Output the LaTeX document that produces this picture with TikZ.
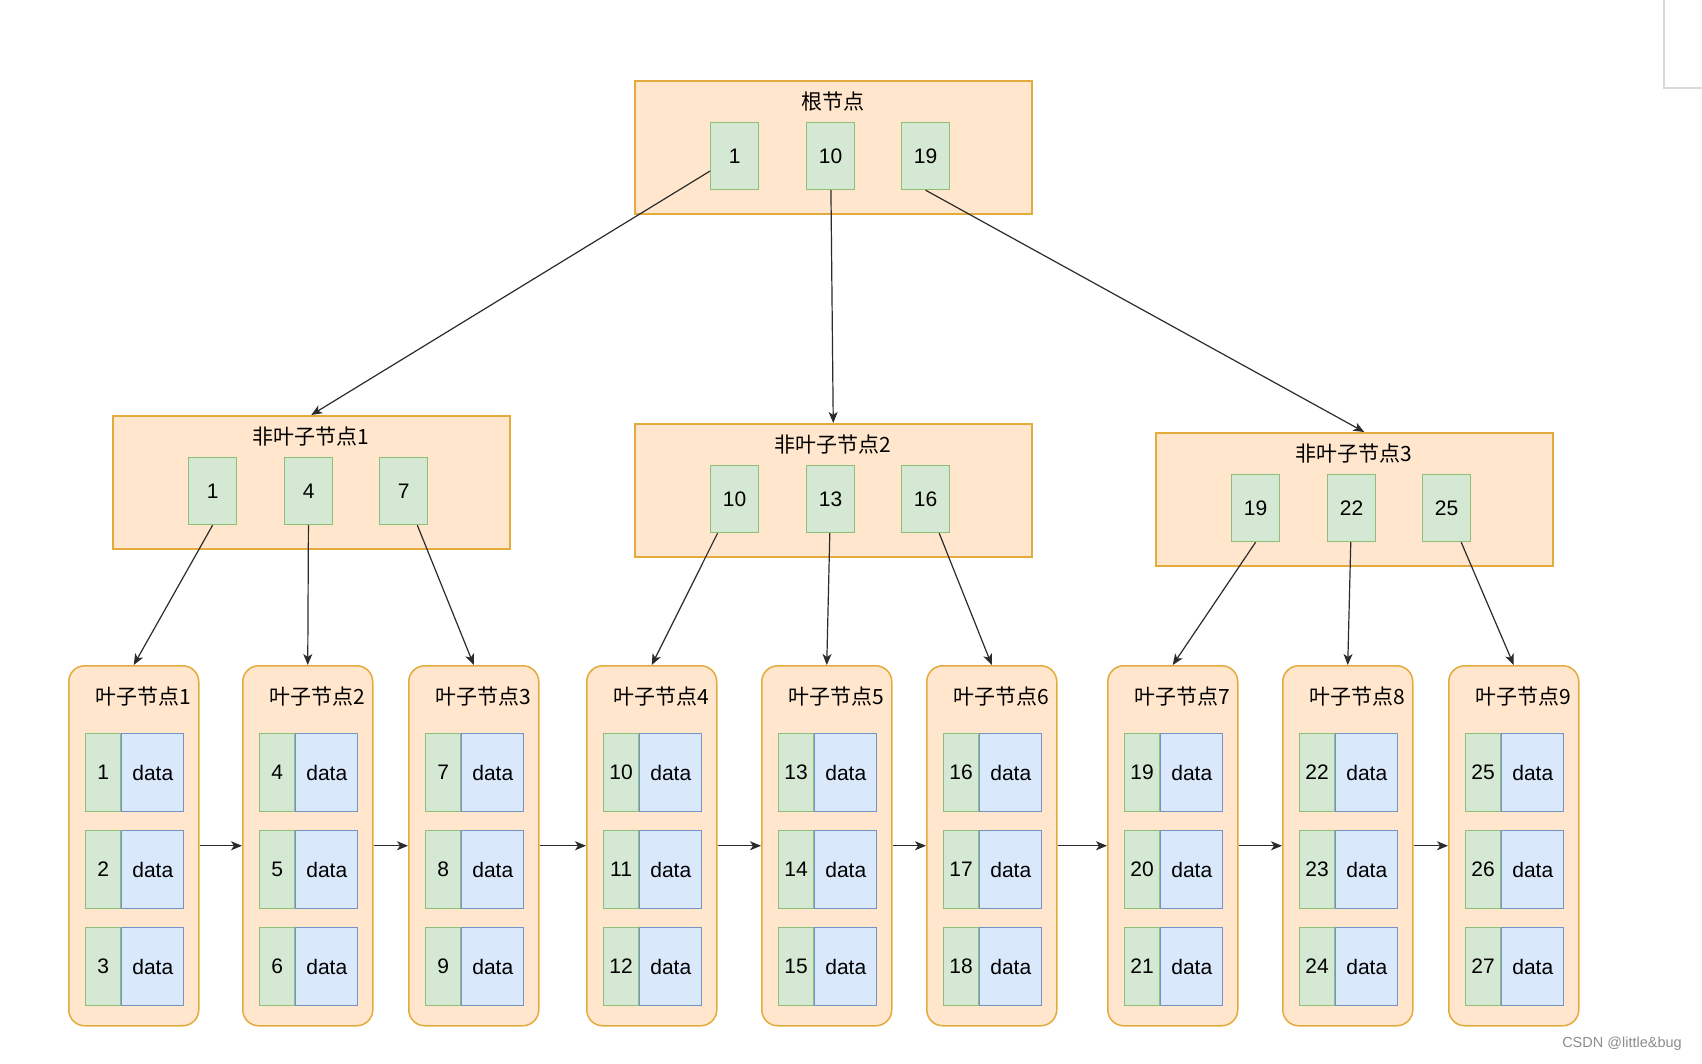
\documentclass[tikz,border=0pt]{standalone}
\usepackage{fontspec}
\setmainfont{Liberation Sans}
\newfontfamily\cjk{Noto Sans CJK SC}
\usetikzlibrary{arrows.meta}
\definecolor{boxfill}{HTML}{FFE6CC}
\definecolor{boxline}{HTML}{E3AA3C}
\definecolor{keyfill}{HTML}{D5E8D4}
\definecolor{keyline}{HTML}{8DBF7A}
\definecolor{datafill}{HTML}{DAE8FC}
\definecolor{dataline}{HTML}{7393C4}
\definecolor{linkcol}{HTML}{2B2B2B}
\definecolor{framegray}{HTML}{D9D9D9}
\begin{document}
\begin{tikzpicture}[x=1pt,y=-1pt,
        outer/.style={draw=boxline,fill=boxfill,line width=1.5pt,inner sep=0pt,anchor=north west,minimum width=397pt,minimum height=133pt},
        leafbox/.style={draw=boxline,fill=boxfill,line width=1.5pt,inner sep=0pt,anchor=north west,rounded corners=16pt,minimum width=130pt,minimum height=360pt},
        keybox/.style={draw=keyline,fill=keyfill,line width=1.2pt,inner sep=0pt,anchor=north west,minimum width=48pt,minimum height=67pt,font=\fontsize{21}{24}\selectfont},
        datakey/.style={draw=keyline,fill=keyfill,line width=1.2pt,inner sep=0pt,anchor=north west,minimum width=35pt,minimum height=78pt,font=\fontsize{21}{24}\selectfont},
        datacell/.style={draw=dataline,fill=datafill,line width=1.2pt,inner sep=0pt,anchor=west,minimum width=62pt,minimum height=78pt,font=\fontsize{21}{24}\selectfont},
        title/.style={font=\cjk\fontsize{21}{24}\selectfont},
        link/.style={draw=linkcol,line width=1.2pt,-{Stealth[length=11pt,width=9pt,inset=3pt]}}
      ]
      \useasboundingbox (0,0) rectangle (1702,1063);
      % root
      \node[outer] (root) at (634,80) {};
      \node[title] at ([yshift=-22pt]root.north) {根节点};
      \foreach \k/\dx in {1/76,10/172,19/267}
        \node[keybox] (r\k) at ([xshift=\dx pt,yshift=-42pt]root.north west) {\k};
      % non-leaf nodes
      \foreach \i/\x/\y/\a/\b/\c in {1/112/415/1/4/7,2/634/423/10/13/16,3/1155/432/19/22/25} {
        \node[outer] (n\i) at (\x,\y) {};
        \node[title] at ([yshift=-22pt]n\i.north) {非叶子节点\i};
        \node[keybox] (nk\a) at ([xshift=76pt,yshift=-42pt]n\i.north west) {\a};
        \node[keybox] (nk\b) at ([xshift=172pt,yshift=-42pt]n\i.north west) {\b};
        \node[keybox] (nk\c) at ([xshift=267pt,yshift=-42pt]n\i.north west) {\c};
      }
      % leaf nodes
      \foreach \i/\x in {1/68,2/242,3/408,4/586,5/761,6/926,7/1107,8/1282,9/1448} {
        \node[leafbox] (l\i) at (\x,665) {};
        \node[title] at ([xshift=10pt,yshift=-32pt]l\i.north) {叶子节点\i};
        \foreach \r in {1,2,3} {
          \pgfmathtruncatemacro\kv{3*\i-3+\r}
          \node[datakey] (dk\kv) at ([xshift=17pt,yshift={-68pt-97pt*(\r-1)}]l\i.north west) {\kv};
          \node[datacell] (dv\kv) at (dk\kv.east) {data};
        }
      }
      % tree links
      \draw[link] (r1) -- (n1.north);
      \draw[link] (r10) -- (n2.north);
      \draw[link] (r19.south) -- ([xshift=10pt]n3.north);
      \draw[link] (nk1.south) -- (l1.north);
      \draw[link] (nk19.south) -- (l7.north);
      \foreach \a/\l in {4/2,7/3,10/4,13/5,16/6,22/8,25/9}
        \draw[link] (nk\a) -- (l\l.north);
      % leaf chain
      \foreach \i [evaluate=\i as \j using int(\i+1)] in {1,...,8}
        \draw[link] (l\i.east) -- (l\j.west);
      % page frame and watermark
      \draw[framegray,line width=2pt] (1664,0) -- (1664,88) -- (1702,88);
      \node[text=black!45,font=\fontsize{14.5}{16}\selectfont] (mark) at (1622,1044) {CSDN @little\&bug};
    \end{tikzpicture}
\end{document}
